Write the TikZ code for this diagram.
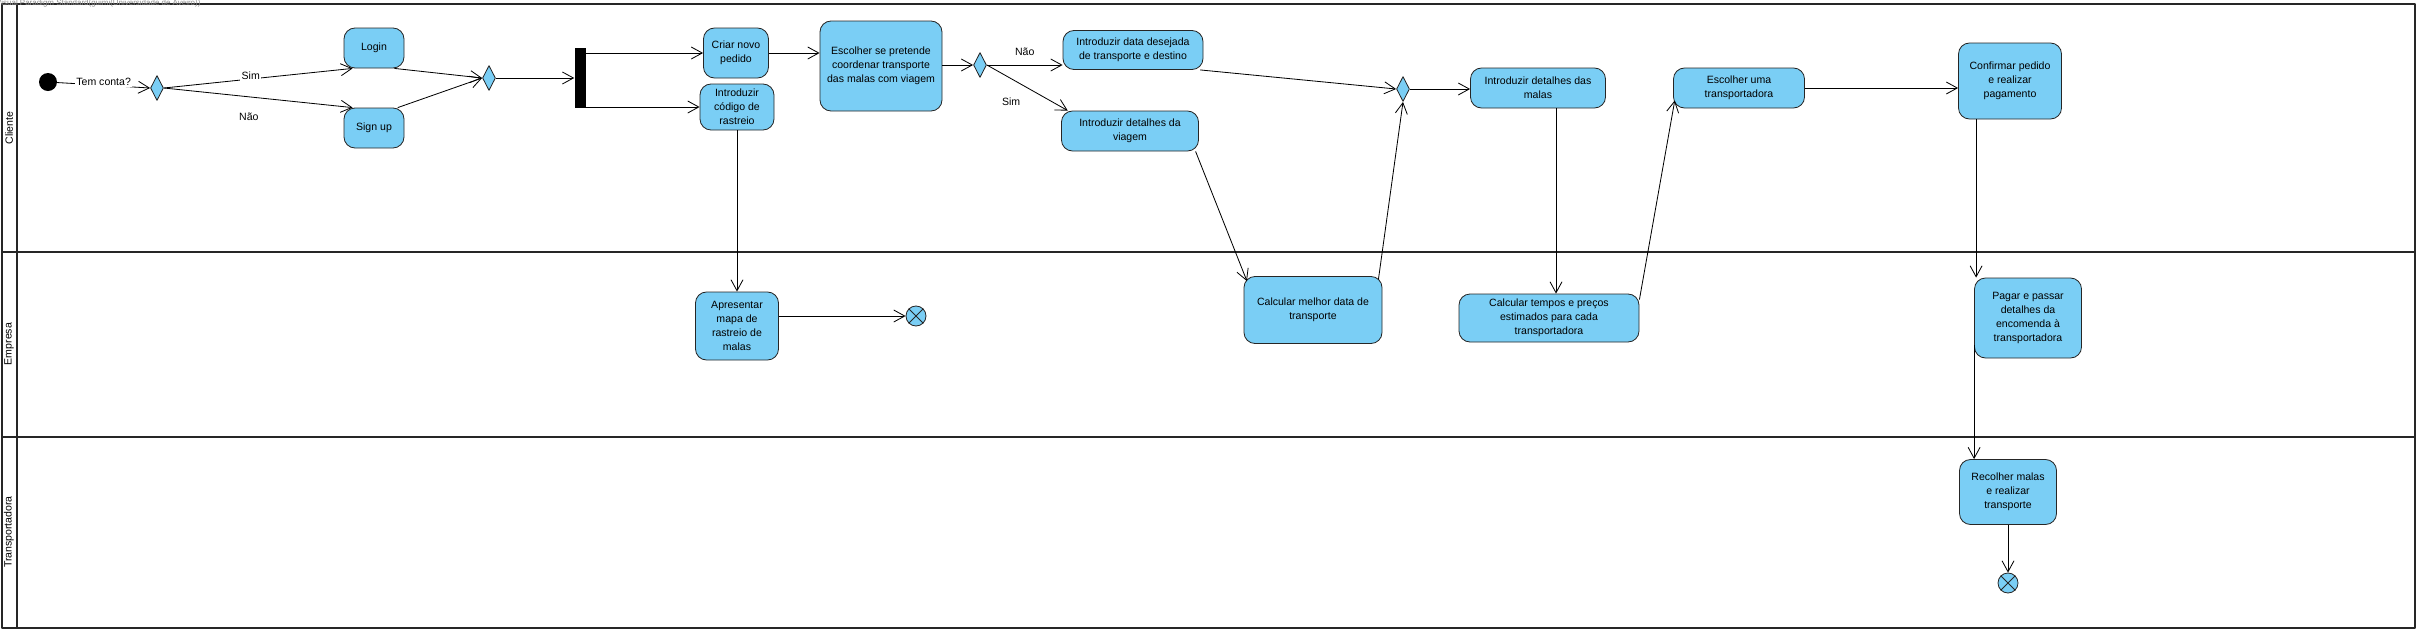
\documentclass[tikz,border=0pt]{standalone}
\usepackage{fontspec}
\setmainfont{Liberation Sans}
\usetikzlibrary{arrows.meta,shapes.geometric}
\definecolor{vpblue}{RGB}{122,206,245}

\begin{document}
\begin{tikzpicture}[x=0.3mm, y=-0.3mm, line join=round, >={Straight Barb[length=3.3mm,width=3.6mm]},
	font=\fontsize{9}{12}\selectfont,
	activity/.style={draw=black!85, fill=vpblue, rounded corners=3.3mm, line width=0.7pt, align=center, inner sep=1pt},
	decision/.style={diamond, draw=black!85, fill=vpblue, line width=0.7pt, minimum width=3.9mm, minimum height=7.5mm, inner sep=0pt},
	final/.style={circle, draw=black!85, fill=vpblue, line width=0.7pt, minimum size=6mm, inner sep=0pt},
	flow/.style={->, line width=0.7pt},
	lane/.style={line width=2pt, black!85},
	guard/.style={fill=white, inner sep=1pt}]
	
	\useasboundingbox (0,0) rectangle (2420,632);
	
	% Raias
	\draw[lane] (2,4) rectangle (2415,628);
	\draw[lane] (17,4) -- (17,628);
	\draw[lane] (2,252) -- (2415,252);
	\draw[lane] (2,437) -- (2415,437);
	\node[rotate=90] (cliente) at (9,128) {Cliente};
	\node[rotate=90] (empresa) at (9,344) {Empresa};
	\node[rotate=90] (transportadora) at (9,532) {Transportadora};
	\node[anchor=west, text=black!45, inner sep=0pt, font=\fontsize{6.8}{7}\selectfont] (marca) at (-4,3)
	{Visual Paradigm Standard(guimi(Universidade de Aveiro))};
	
	% Cliente
	\node[circle, fill=black, minimum size=5.4mm, inner sep=0pt] (inicio) at (48,82) {};
	\node[decision] (d1) at (157,88) {};
	\node[activity, minimum width=18mm, minimum height=12mm] (login) at (374,48) {Login};
	\node[activity, minimum width=18mm, minimum height=12mm] (signup) at (374,128) {Sign up};
	\node[decision] (d2) at (489,78) {};
	\node[fill=black, minimum width=3.3mm, minimum height=18mm, inner sep=0pt] (fork) at (580,78) {};
	\node[activity, minimum width=19.5mm, minimum height=15mm] (criar) at (736,53) {Criar novo\\pedido};
	\node[activity, minimum width=22.2mm, minimum height=13.8mm] (codigo) at (737,107) {Introduzir\\código de\\rastreio};
	\node[activity, minimum width=36.6mm, minimum height=27mm] (escolher) at (881,66)
	{Escolher se pretende\\coordenar transporte\\das malas com viagem};
	\node[decision] (d3) at (980,65) {};
	\node[activity, minimum width=42mm, minimum height=11.7mm] (data) at (1133,50)
	{Introduzir data desejada\\de transporte e destino};
	\node[activity, minimum width=41.1mm, minimum height=12mm] (viagem) at (1130,131)
	{Introduzir detalhes da\\viagem};
	\node[decision] (d4) at (1403,89) {};
	\node[activity, minimum width=40.5mm, minimum height=12mm] (malas) at (1538,88)
	{Introduzir detalhes das\\malas};
	\node[activity, minimum width=39.3mm, minimum height=12mm] (escolhertr) at (1739,88)
	{Escolher uma\\transportadora};
	\node[activity, minimum width=30.9mm, minimum height=22.8mm] (confirmar) at (2010,81)
	{Confirmar pedido\\e realizar\\pagamento};
	
	% Empresa
	\node[activity, minimum width=24.9mm, minimum height=20.4mm] (apresentar) at (737,326)
	{Apresentar\\mapa de\\rastreio de\\malas};
	\node[final] (fim1) at (916,316) {};
	\node[activity, minimum width=41.4mm, minimum height=20.1mm] (melhor) at (1313,310)
	{Calcular melhor data de\\transporte};
	\node[activity, minimum width=54mm, minimum height=14.4mm] (tempos) at (1549,318)
	{Calcular tempos e preços\\estimados para cada\\transportadora};
	\node[activity, minimum width=32.1mm, minimum height=24mm] (pagar) at (2028,318)
	{Pagar e passar\\detalhes da\\encomenda à\\transportadora};
	
	% Transportadora
	\node[activity, minimum width=29.1mm, minimum height=19.5mm] (recolher) at (2008,492)
	{Recolher malas\\e realizar\\transporte};
	\node[final] (fim2) at (2008,583) {};
	
	% Cruzes dos nós finais
	\draw[line width=0.7pt, black!85] (fim1.north east) -- (fim1.south west) (fim1.north west) -- (fim1.south east);
	\draw[line width=0.7pt, black!85] (fim2.north east) -- (fim2.south west) (fim2.north west) -- (fim2.south east);
	
	% Pontos de saída
	\coordinate (saidapagar) at ([yshift=-8mm]pagar.west);
	\coordinate (saidaconf) at ([xshift=5.4mm]confirmar.south west);
	
	% Fluxos
	\draw[flow] (inicio) -- (d1.west) node[guard, pos=0.5, yshift=1mm] {Tem conta?};
	\draw[flow] (d1.east) -- ([xshift=2.7mm]login.south west) node[guard, pos=0.46, yshift=1mm] {Sim};
	\draw[flow] (d1.east) -- ([xshift=2.7mm]signup.north west) node[pos=0.45, below=3.5mm] {Não};
	\draw[flow] ([xshift=-3mm]login.south east) -- (d2.west);
	\draw[flow] ([xshift=-2mm]signup.north east) -- (d2.west);
	\draw[flow] (d2.east) -- (fork.west);
	\draw[flow] (fork.east |- criar.west) -- (criar.west);
	\draw[flow] (fork.east |- codigo.west) -- (codigo.west);
	\draw[flow] (criar.east) -- (criar.east -| escolher.west);
	\draw[flow] (escolher.east |- d3.west) -- (d3.west);
	\draw[flow] (d3.east) -- (d3.east -| data.west) node[midway, above=1.5mm] {Não};
	\draw[flow] (d3.east) -- ([xshift=2mm]viagem.north west) node[pos=0.3, below=4.5mm] {Sim};
	\draw[flow] (codigo.south) -- (apresentar.north);
	\draw[flow] (apresentar.east |- fim1) -- (fim1);
	\draw[flow] ([xshift=-1mm]data.south east) -- (d4.west);
	\draw[flow] ([xshift=-1mm]viagem.south east) -- ([xshift=1mm,yshift=-1.5mm]melhor.north west);
	\draw[flow] ([xshift=-1.2mm,yshift=-1mm]melhor.north east) -- (d4.south);
	\draw[flow] (d4.east) -- (d4.east -| malas.west);
	\draw[flow] ([xshift=2.1mm]tempos.north |- malas.south) -- ([xshift=2.1mm]tempos.north);
	\draw[flow] ([yshift=-1.8mm]tempos.north east) -- ([xshift=0.5mm,yshift=2.4mm]escolhertr.south west);
	\draw[flow] (escolhertr.east) -- (escolhertr.east -| confirmar.west);
	\draw[flow] (saidaconf) -- (saidaconf |- pagar.north);
	\draw[flow] (saidapagar) -- (saidapagar |- recolher.north);
	\draw[flow] (recolher.south) -- (fim2.north);
	
\end{tikzpicture}
\end{document}
